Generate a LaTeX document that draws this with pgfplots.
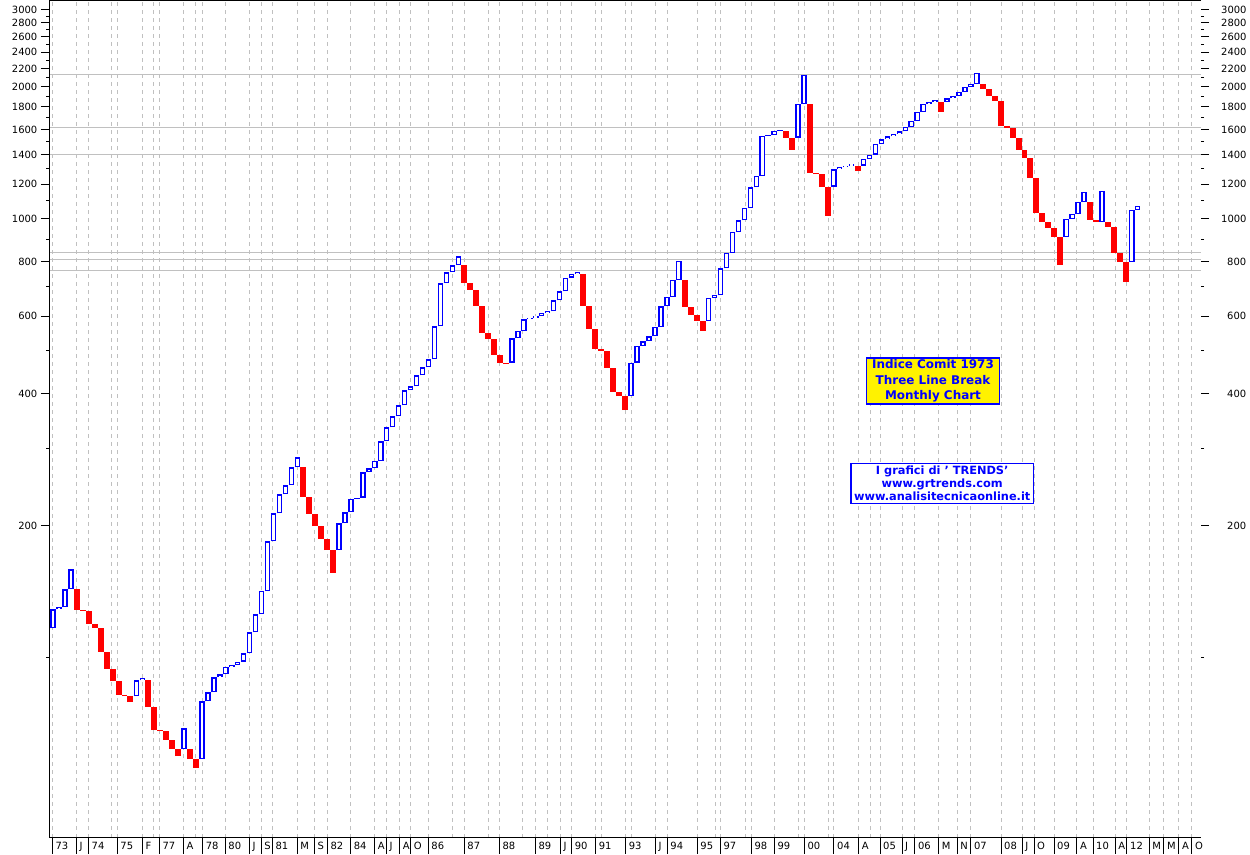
\documentclass[border=0pt]{standalone}
\usepackage{pgfplots}
\pgfplotsset{compat=1.18}
\usepackage{pgfplotstable}
\usepackage{fontspec}
\setmainfont{DejaVu Sans}
\definecolor{brickblue}{RGB}{0,0,255}
\definecolor{brickred}{RGB}{255,0,0}
\definecolor{gridgray}{RGB}{192,192,192}

% three line break bricks: index, low, high
\pgfplotstableread{
i lo hi
1 116.6 128.9
2 128.9 130.2
3 130.2 143.1
4 143.1 159.0
15 81.7 88.7
16 88.7 89.8
23 61.9 69.0
26 58.7 79.5
27 79.5 83.3
28 83.3 90.2
29 90.2 91.6
30 91.6 95.2
31 95.2 96.2
32 96.2 97.9
33 97.9 102.3
34 102.3 114.2
35 114.2 125.5
36 125.5 141.8
37 141.8 184.2
38 184.2 213.3
39 213.3 235.7
40 235.7 247.1
41 247.1 271.6
42 271.6 286.2
49 175.9 202.4
50 202.4 214.4
51 214.4 230.0
52 230.0 231.5
53 231.5 264.6
54 264.6 270.2
55 270.2 280.7
56 280.7 311.2
57 311.2 335.0
58 335.0 354.9
59 354.9 376.0
60 376.0 406.4
61 406.4 415.5
62 415.5 440.1
63 440.1 459.0
64 459.0 478.7
65 478.7 569.3
66 569.3 713.7
67 713.7 756.0
68 756.0 784.4
69 784.4 822.3
78 470.2 534.5
79 534.5 555.4
80 555.4 590.6
81 590.6 595.6
82 595.6 600.0
83 600.0 610.5
84 610.5 616.0
85 616.0 652.6
86 652.6 684.2
87 684.2 734.9
88 734.9 749.3
89 749.3 755.1
98 394.8 470.2
99 470.2 513.4
100 513.4 526.2
101 526.2 540.2
102 540.2 567.2
103 567.2 632.3
104 632.3 664.0
105 664.0 726.2
106 726.2 802.2
111 585.3 661.5
112 661.5 669.9
113 669.9 772.1
114 772.1 836.6
115 836.6 933.9
116 933.9 993.2
117 993.2 1059.3
118 1059.3 1180.9
119 1180.9 1253.2
120 1253.2 1546.3
121 1546.3 1554.4
122 1554.4 1587.4
123 1587.4 1591.6
126 1532.5 1828.8
127 1828.8 2129.7
132 1184.6 1298.5
133 1298.5 1312.2
134 1312.2 1323.2
135 1323.2 1333.0
137 1323.2 1370.6
138 1370.6 1401.8
139 1401.8 1482.7
140 1482.7 1519.7
141 1519.7 1542
142 1542 1562.5
143 1562.5 1583
144 1583 1620.5
145 1620.5 1672.4
146 1672.4 1753.3
147 1753.3 1828.8
148 1828.8 1848.1
149 1848.1 1862.7
151 1848.1 1882.4
152 1882.4 1907.2
153 1907.2 1947.7
154 1947.7 1999.5
155 1999.5 2031.2
156 2031.2 2152.2
171 909.7 1000
172 1000 1026.5
173 1026.5 1093.3
174 1093.3 1152.3
177 984.3 1158.4
182 798.0 1048.3
183 1048.3 1070.5
}\bluebricks

\pgfplotstableread{
i lo hi
5 128.4 143.1
6 127.7 128.4
7 119.3 127.7
8 116.8 119.3
9 103.1 116.8
10 94.3 103.1
11 88.4 94.3
12 82.2 88.4
13 81.7 82.2
14 79.2 81.7
17 77.2 88.7
18 68.4 77.2
19 68.0 68.4
20 64.9 68.0
21 61.9 64.9
22 59.6 61.9
24 58.7 61.9
25 56.1 58.7
43 232.8 271.6
44 212.5 232.8
45 199.5 212.5
46 186.4 199.5
47 175.9 186.4
48 156.2 175.9
70 715.9 784.4
71 690.0 715.9
72 634.3 690.0
73 550.5 634.3
74 533.4 550.5
75 489.7 533.4
76 470.2 489.7
77 467.8 470.2
90 634.3 749.3
91 562.1 634.3
92 505.3 562.1
93 500.8 505.3
94 458.1 500.8
95 403.8 458.1
96 394.8 403.8
97 366.8 394.8
107 631.0 726.2
108 604.1 631.0
109 585.3 604.1
110 556.3 585.3
124 1532.5 1587.4
125 1438.7 1532.5
128 1275.5 1828.8
129 1266.8 1275.5
130 1184.6 1266.8
131 1017.4 1184.6
136 1288.9 1323.2
150 1753.3 1848.1
157 1978.6 2031.2
158 1907.2 1978.6
159 1857.9 1907.2
160 1629 1857.9
161 1616.3 1629
162 1530 1616.3
163 1436.5 1530
164 1377.8 1436.5
165 1240.0 1377.8
166 1031.9 1240.0
167 984.3 1031.9
168 953.7 984.3
169 909.7 953.7
170 785.6 909.7
175 994.7 1093.3
176 984.3 994.7
178 960 984.3
179 836.7 960
180 798.0 836.7
181 718.5 798.0
}\redbricks

\begin{document}
\begin{tikzpicture}[x=1bp, y=1bp]
\useasboundingbox (0,0) rectangle (1250,855);

% main axis: bricks, date separators, grid
\begin{axis}[
  at={(49bp,17bp)}, anchor=south west, scale only axis,
  width=1152bp, height=837.5bp,
  xmin=0.332, xmax=193.62,
  ymode=log, ymin=38.79, ymax=3149,
  axis line style={draw=none},
  tick align=outside,
  tick style={black, line width=1bp},
  ticklabel style={font=\fontsize{10}{12}\selectfont},
  ytick=\empty,
  xtick pos=bottom,
  major tick length=16bp,
  xtick={0.886,4.946,6.96,11.79,15.99,18.84,22.87,26.12,29.91,33.94,35.95,37.80,41.99,44.85,47.03,50.95,54.98,56.93,59.17,61.02,63.97,70.01,75.89,81.93,86.12,88.03,92.06,97.09,102.06,104.07,109.1,112.97,118.17,122.03,127.06,132.04,136.19,139.76,143.45,145.6,149.6,152.7,155.0,160.06,163.6,165.6,168.96,172.8,175.5,179.2,181.2,184.9,187.4,189.9,192.1},
  xticklabels={73,J,74,75,F,77,A,78,80,J,S,81,M,S,82,84,A,J,A,O,86,87,88,89,J,90,91,93,J,94,95,97,98,99,00,04,A,05,J,06,M,N,07,08,J,O,09,A,10,A,12,M,M,A,O},
  xticklabel style={anchor=north west, inner sep=0pt, xshift=3bp, yshift=12bp},
  xmajorgrids,
  major grid style={draw=gridgray, line width=1bp, dash pattern=on 4bp off 4bp},
  extra x ticks={10.79,17.83,24.88,68.0,74.04,79.81,84.0,93.0,98.03,112.13,117.16,126.06,131.09,138.2},
  extra x tick labels={},
  extra x tick style={major tick length=0pt, grid=major},
  extra y ticks={2138,1615,1405,839.7,806.4,765},
  extra y tick labels={},
  extra y tick style={major tick length=0pt, grid=major,
    major grid style={draw=gridgray, solid, line width=1bp}},
]
% red bricks, filled
\addplot[draw=none, mark=none,
  error bars/.cd, y dir=plus, y explicit, error mark=none,
  error bar style={draw=brickred, line width=5.96bp}]
  table[x=i, y=lo, y error plus expr=\thisrow{hi}-\thisrow{lo}] {\redbricks};
% blue bricks: blue body, white inside
\addplot[draw=none, mark=none,
  error bars/.cd, y dir=plus, y explicit, error mark=none,
  error bar style={draw=brickblue, line width=5.5bp}]
  table[x=i, y=lo, y error plus expr=\thisrow{hi}-\thisrow{lo}] {\bluebricks};
\addplot[draw=none, mark=none,
  error bars/.cd, y dir=plus, y explicit, error mark=none,
  error bar style={draw=white, line width=2.7bp, shorten <=1.4bp, shorten >=1.4bp}]
  table[x=i, y=lo, y error plus expr=\thisrow{hi}-\thisrow{lo}] {\bluebricks};
\draw[black, line width=1.3bp] (rel axis cs:1,1) -- (rel axis cs:0,1)
  -- (rel axis cs:0,0) -- (rel axis cs:1,0);
\end{axis}

% left price scale
\begin{axis}[
  at={(49bp,17bp)}, anchor=south west, scale only axis,
  width=1152bp, height=837.5bp,
  xmin=0.332, xmax=193.62,
  ymode=log, ymin=38.79, ymax=3149,
  axis line style={draw=none},
  tick align=outside,
  tick style={black, line width=1bp},
  ticklabel style={font=\fontsize{10}{12}\selectfont},
  xtick=\empty, ytick pos=left,
  major tick length=8bp, minor tick length=3bp,
  ytick={200,400,600,800,1000,1200,1400,1600,1800,2000,2200,2400,2600,2800,3000},
  yticklabels={200,400,600,800,1000,1200,1400,1600,1800,2000,2200,2400,2600,2800,3000},
  minor ytick={100,300,500,700,900,1100,1300,1500,1700,1900,2100,2300,2500,2700,2900},
  yticklabel style={inner sep=0pt, xshift=-3.5bp},
]
\end{axis}

% right price scale
\begin{axis}[
  at={(49bp,17bp)}, anchor=south west, scale only axis,
  width=1152bp, height=837.5bp,
  xmin=0.332, xmax=193.62,
  ymode=log, ymin=38.79, ymax=3149,
  axis line style={draw=none},
  tick align=outside,
  tick style={black, line width=1bp},
  ticklabel style={font=\fontsize{10}{12}\selectfont},
  xtick=\empty, ytick pos=right, yticklabel pos=right,
  major tick length=8bp, minor tick length=3bp,
  ytick={200,400,600,800,1000,1200,1400,1600,1800,2000,2200,2400,2600,2800,3000},
  yticklabels={200,400,600,800,1000,1200,1400,1600,1800,2000,2200,2400,2600,2800,3000},
  minor ytick={100,300,500,700,900,1100,1300,1500,1700,1900,2100,2300,2500,2700,2900},
  yticklabel style={inner sep=0pt, anchor=west, text width=25bp, align=right, xshift=12bp},
]
\end{axis}

% captions
\draw[fill=yellow, draw=brickblue, line width=1.3bp] (866.3,451) rectangle (999.7,497);
\node[align=center, text=brickblue, inner sep=0pt,
  font=\fontsize{12}{15.5}\selectfont\bfseries] at (933,474)
  {Indice Comit 1973\\Three Line Break\\Monthly Chart};
\draw[fill=white, draw=brickblue, line width=1.3bp] (851,351.7) rectangle (1033.3,391.7);
\node[align=center, text=brickblue, inner sep=0pt,
  font=\fontsize{11.4}{13.5}\selectfont\bfseries] at (942.2,371.7)
  {I grafici di ' TRENDS'\\www.grtrends.com\\www.analisitecnicaonline.it};
\end{tikzpicture}
\end{document}
